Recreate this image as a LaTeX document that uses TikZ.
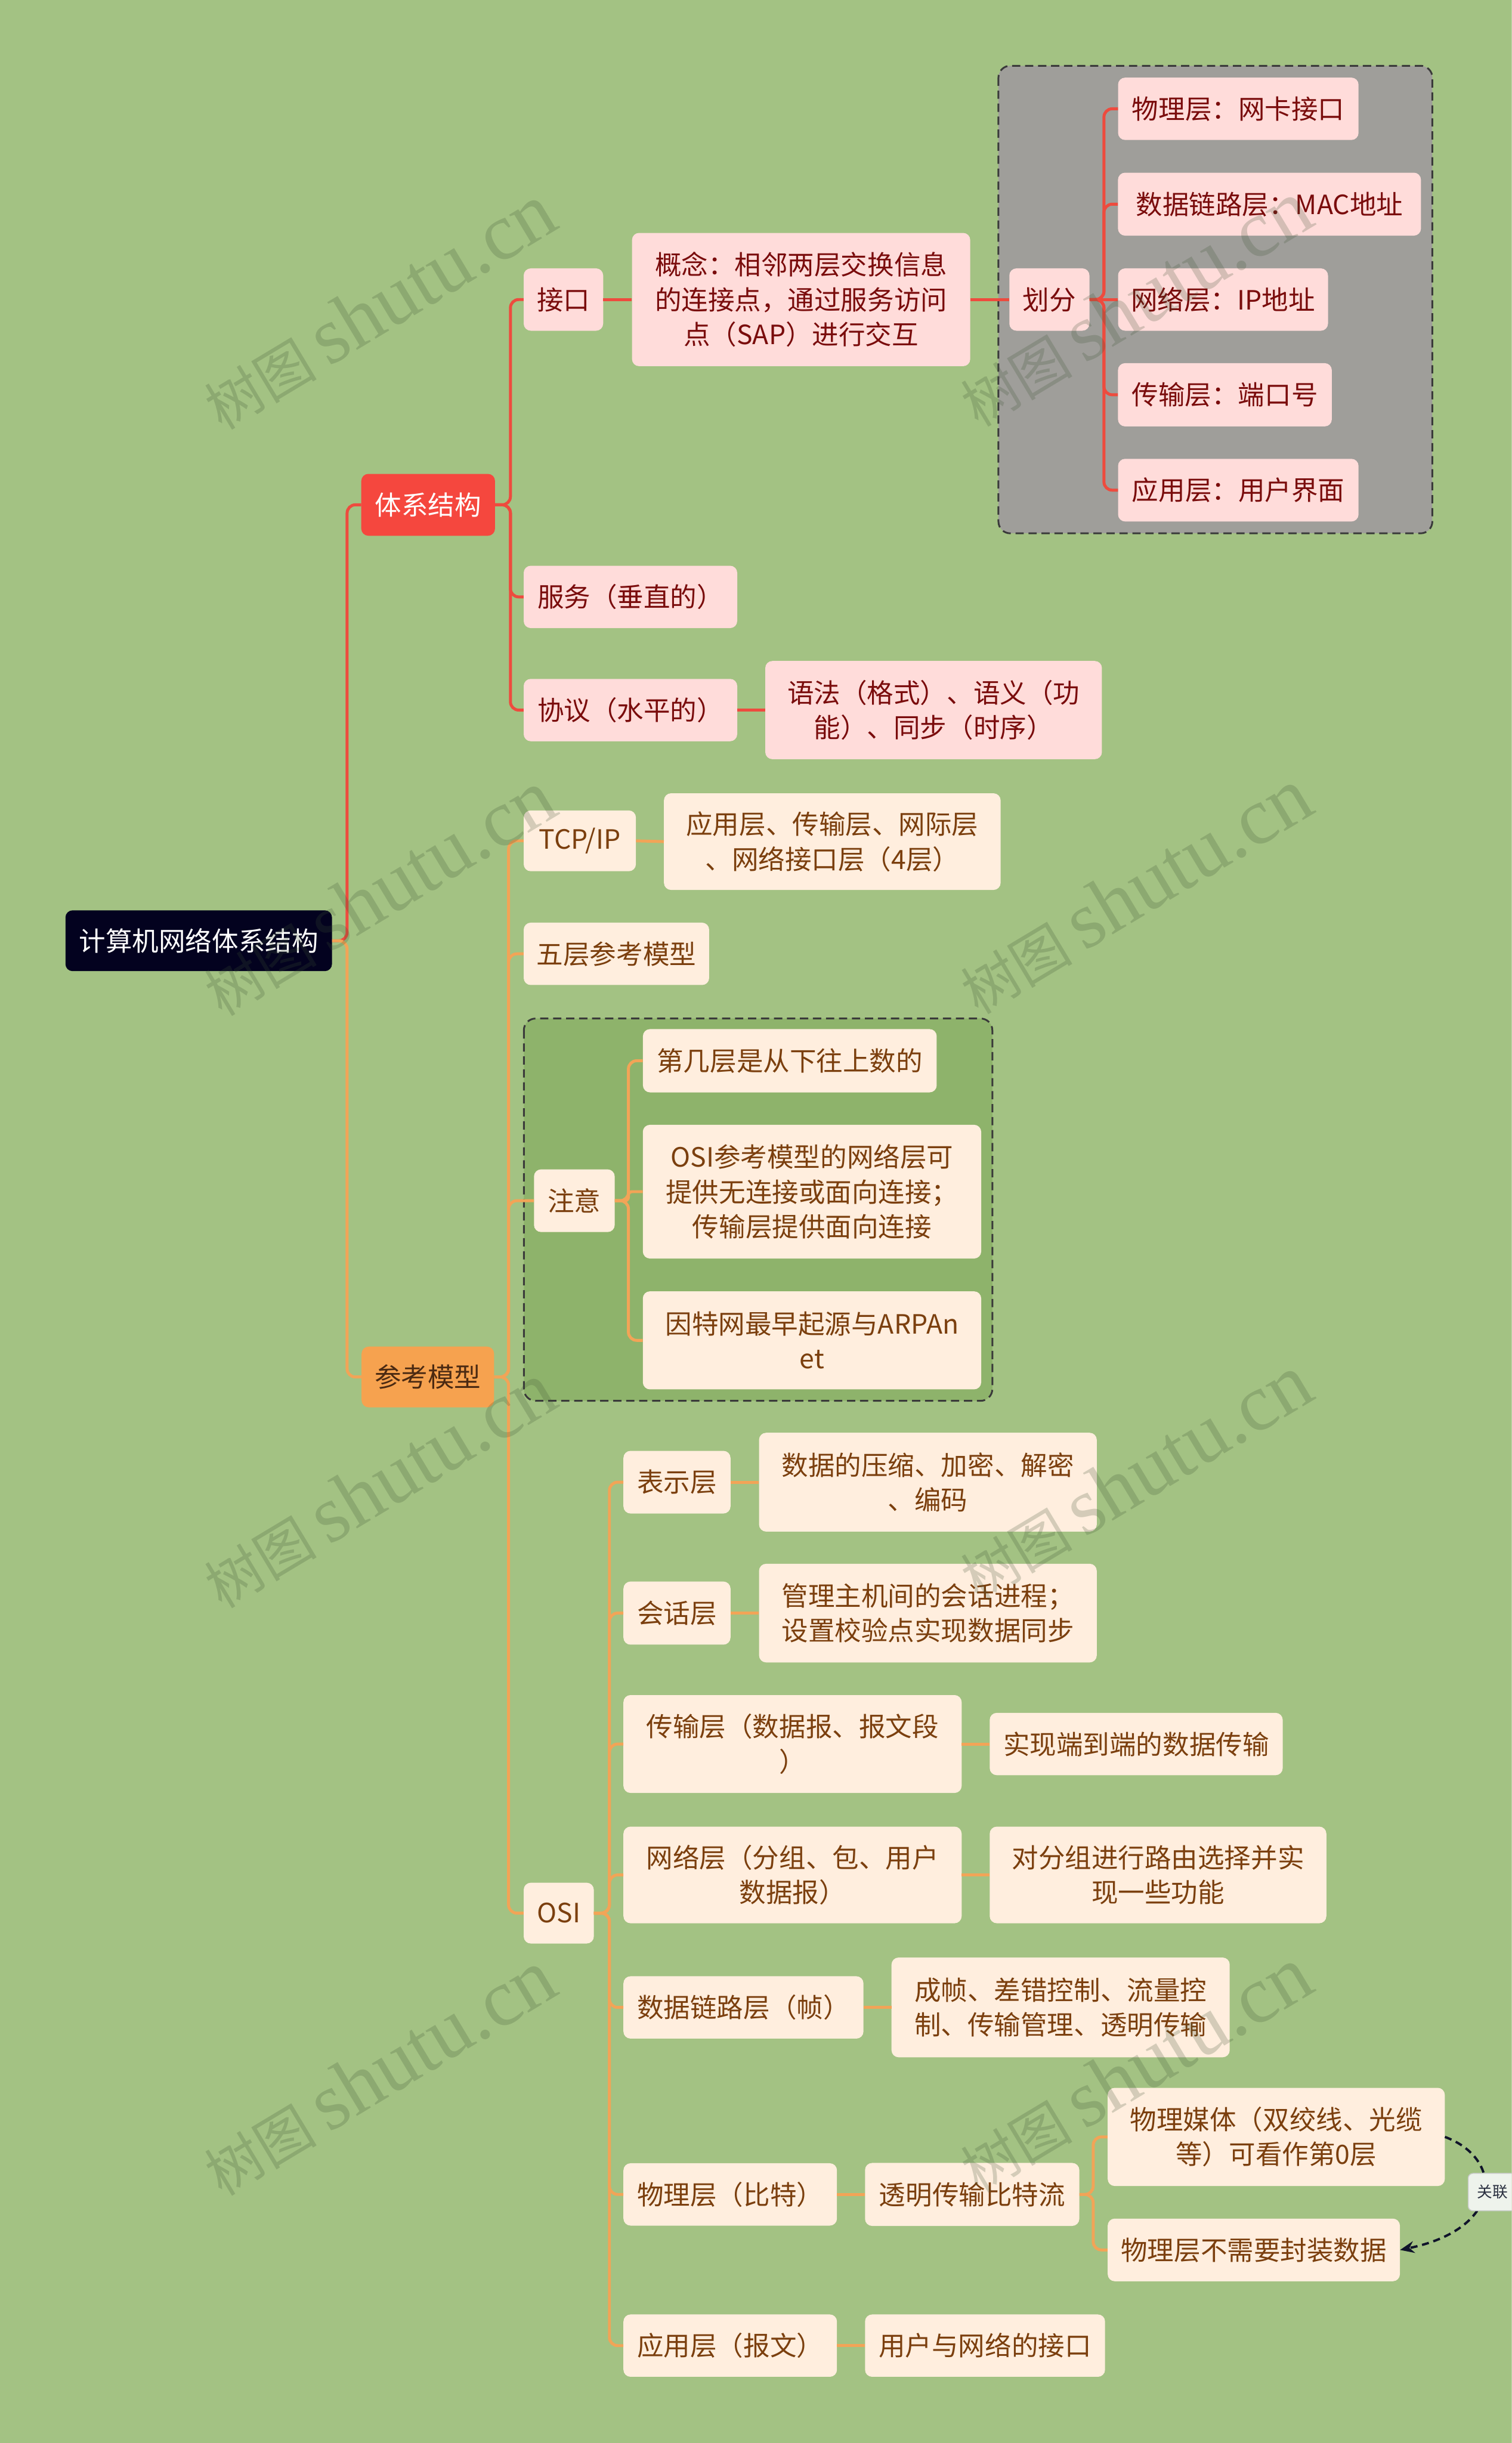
\documentclass[tikz,border=0pt]{standalone}
\usepackage{fontspec}
\setmainfont{Noto Sans CJK SC}
\newfontfamily\wmserif{Liberation Serif}
\usetikzlibrary{arrows.meta}
\definecolor{bgc}{HTML}{A3C283}
\definecolor{rootf}{HTML}{03021F}
\definecolor{redf}{HTML}{F5473E}
\definecolor{redl}{HTML}{EE4B3E}
\definecolor{pinkf}{HTML}{FFDCDA}
\definecolor{redt}{HTML}{7A0C0C}
\definecolor{orf}{HTML}{F6A24F}
\definecolor{orl}{HTML}{F2A457}
\definecolor{ort}{HTML}{4B2A12}
\definecolor{creamf}{HTML}{FFEEDE}
\definecolor{brownt}{HTML}{7B3F0E}
\definecolor{greyf}{HTML}{9F9E9A}
\definecolor{greenf}{HTML}{8EB36B}
\definecolor{grpl}{HTML}{3A3A3A}
\definecolor{wmc}{HTML}{3E5232}
\definecolor{relf}{HTML}{EEF3EC}
\definecolor{rell}{HTML}{C8CCC8}
\definecolor{relt}{HTML}{2A3040}
\definecolor{arrc}{HTML}{10142A}
\newcommand\fsz{\fontsize{45pt}{59pt}\selectfont}
\tikzset{
  nbase/.style={rounded corners=12pt, inner sep=0pt, align=center, font=\fsz},
  rootn/.style={nbase, fill=rootf, text=white},
  redn/.style={nbase, fill=redf, text=white},
  orn/.style={nbase, fill=orf, text=ort},
  pk/.style={nbase, fill=pinkf, text=redt},
  cr/.style={nbase, fill=creamf, text=brownt},
  sz/.style 2 args={minimum width=#1*2.63918pt, minimum height=#2*2.63918pt},
  rl/.style={draw=redl, line width=5pt, rounded corners=14pt},
  ol/.style={draw=orl, line width=5pt, rounded corners=14pt},
  grp/.style={draw=grpl, line width=3pt, dash pattern=on 14pt off 8pt, rounded corners=20pt},
  wm/.style={rotate=31, text=wmc, text opacity=0.22, inner sep=0pt},
  reln/.style={fill=relf, draw=rell, line width=1.5pt, rounded corners=8pt, text=relt, font=\fontsize{26pt}{30pt}\selectfont, inner sep=0pt},
  relarrow/.style={draw=arrc, line width=4pt, dash pattern=on 12pt off 8pt, -{Stealth[length=24pt,width=20pt]}}
}
\begin{document}
\begin{tikzpicture}[x=2.63918pt, y=-2.63918pt]
\useasboundingbox (0,0) rectangle (970,1567.5);
\clip (0,0) rectangle (970,1567.5);
\fill[bgc] (0,0) rectangle (970,1567.5);

% group boxes
\draw[grp, fill=greyf] (640.6,42.2) rectangle (919,342.2);
\draw[grp, fill=greenf] (336.1,653.5) rectangle (636.7,898.8);

% trunk coordinates
\coordinate (tR) at (222.7,0);
\coordinate (tA) at (327.5,0);
\coordinate (tH) at (708.3,0);
\coordinate (tB) at (326.3,0);
\coordinate (tZ) at (403.2,0);
\coordinate (tO) at (391,0);
\coordinate (tT) at (701.4,0);

% nodes
\node[rootn, sz={171}{39}] (root) at (127.5,603.6) {计算机网络体系结构};
\node[redn, sz={85.8}{39.7}] (tx) at (274.7,323.9) {体系结构};
\node[orn, sz={85}{39}] (ck) at (274.5,883.5) {参考模型};

\node[pk, sz={51}{40}] (jk) at (361.5,192.2) {接口};
\node[pk, sz={217}{85.5}] (gn) at (514,192.2) {概念：相邻两层交换信息\\的连接点，通过服务访问\\点（SAP）进行交互};
\node[pk, sz={137}{40}] (fw) at (404.5,383) {服务（垂直的）};
\node[pk, sz={137}{40}] (xy) at (404.5,455.6) {协议（水平的）};
\node[pk, sz={216}{63}] (yf) at (599,455.6) {语法（格式）、语义（功\\能）、同步（时序）};
\node[pk, sz={51.4}{40}] (hf) at (673.3,192.2) {划分};
\node[pk, sz={154.3}{40}] (h1) at (794.5,69.8) {物理层：网卡接口};
\node[pk, sz={194.4}{40.4}] (h2) at (814.5,131) {数据链路层：MAC地址};
\node[pk, sz={134.7}{40}] (h3) at (784.7,192.2) {网络层：IP地址};
\node[pk, sz={137.2}{40.6}] (h4) at (785.9,253.3) {传输层：端口号};
\node[pk, sz={154.3}{40.2}] (h5) at (794.5,314.5) {应用层：用户界面};

\node[cr, sz={72}{39}] (tcp) at (372,539.5) {TCP/IP};
\node[cr, sz={216}{62}] (tcpd) at (534,540) {应用层、传输层、网际层\\、网络接口层（4层）};
\node[cr, sz={119}{40}] (wc) at (395.5,612) {五层参考模型};
\node[cr, sz={51.8}{40.2}] (zy) at (368.5,770.4) {注意};
\node[cr, sz={188.5}{40.6}] (z1) at (506.75,680.6) {第几层是从下往上数的};
\node[cr, sz={217.1}{85.8}] (z2) at (521,764.6) {OSI参考模型的网络层可\\提供无连接或面向连接；\\传输层提供面向连接};
\node[cr, sz={217.1}{62.9}] (z3) at (521,860) {因特网最早起源与ARPAn\\et};
\node[cr, sz={45}{39}] (osi) at (358.5,1227.5) {OSI};
\node[cr, sz={68.7}{40.2}] (o1) at (434.35,951) {表示层};
\node[cr, sz={216.7}{63.4}] (o1d) at (595.35,951) {数据的压缩、加密、解密\\、编码};
\node[cr, sz={68.7}{40.5}] (o2) at (434.35,1035) {会话层};
\node[cr, sz={216.7}{63.3}] (o2d) at (595.35,1035) {管理主机间的会话进程；\\设置校验点实现数据同步};
\node[cr, sz={217}{62.8}] (o3) at (508.5,1119) {传输层（数据报、报文段\\）};
\node[cr, sz={188}{40}] (o3d) at (729,1119) {实现端到端的数据传输};
\node[cr, sz={217}{62}] (o4) at (508.5,1203) {网络层（分组、包、用户\\数据报）};
\node[cr, sz={216}{62}] (o4d) at (743,1203) {对分组进行路由选择并实\\现一些功能};
\node[cr, sz={154}{40}] (o5) at (477,1288) {数据链路层（帧）};
\node[cr, sz={217}{64}] (o5d) at (680.5,1288) {成帧、差错控制、流量控\\制、传输管理、透明传输};
\node[cr, sz={137}{40}] (o6) at (468.5,1408) {物理层（比特）};
\node[cr, sz={137.5}{40.4}] (o6d) at (623.75,1408) {透明传输比特流};
\node[cr, sz={216.3}{63}] (pm) at (818.85,1371.1) {物理媒体（双绞线、光缆\\等）可看作第0层};
\node[cr, sz={187.5}{40.2}] (pb) at (804.45,1443.6) {物理层不需要封装数据};
\node[cr, sz={137}{40}] (o7) at (468.5,1505) {应用层（报文）};
\node[cr, sz={154}{40}] (o7d) at (632,1505) {用户与网络的接口};

% red connectors
\draw[rl] (root.east) -- (root.east -| tR) |- (tx.west);
\draw[rl] (tx.east) -- (tx.east -| tA) |- (jk.west);
\draw[rl] (tx.east) -- (tx.east -| tA) |- (fw.west);
\draw[rl] (tx.east) -- (tx.east -| tA) |- (xy.west);
\draw[rl] (jk.east) -- (gn.west);
\draw[rl] (gn.east) -- (hf.west);
\draw[rl] (xy.east) -- (yf.west);
\draw[rl] (hf.east) -- (hf.east -| tH) |- (h1.west);
\draw[rl] (hf.east) -- (hf.east -| tH) |- (h2.west);
\draw[rl] (hf.east) -- (h3.west);
\draw[rl] (hf.east) -- (hf.east -| tH) |- (h4.west);
\draw[rl] (hf.east) -- (hf.east -| tH) |- (h5.west);

% orange connectors
\draw[ol] (root.east) -- (root.east -| tR) |- (ck.west);
\draw[ol] (ck.east) -- (ck.east -| tB) |- (tcp.west);
\draw[ol] (ck.east) -- (ck.east -| tB) |- (wc.west);
\draw[ol] (ck.east) -- (ck.east -| tB) |- (zy.west);
\draw[ol] (ck.east) -- (ck.east -| tB) |- (osi.west);
\draw[ol] (tcp.east) -- (tcpd.west);
\draw[ol] (zy.east) -- (zy.east -| tZ) |- (z1.west);
\draw[ol, rounded corners=6pt] (zy.east) -- (zy.east -| tZ) |- (z2.west);
\draw[ol] (zy.east) -- (zy.east -| tZ) |- (z3.west);
\foreach \c in {o1,o2,o3,o4,o5,o6,o7}{
  \draw[ol] (osi.east) -- (osi.east -| tO) |- (\c.west);
}
\draw[ol] (o1.east) -- (o1d.west);
\draw[ol] (o2.east) -- (o2d.west);
\draw[ol] (o3.east) -- (o3d.west);
\draw[ol] (o4.east) -- (o4d.west);
\draw[ol] (o5.east) -- (o5d.west);
\draw[ol] (o6.east) -- (o6d.west);
\draw[ol] (o7.east) -- (o7d.west);
\draw[ol] (o6d.east) -- (o6d.east -| tT) |- (pm.west);
\draw[ol] (o6d.east) -- (o6d.east -| tT) |- (pb.west);

% relation arrow
\draw[relarrow] (pm.east) .. controls (965,1385) and (965,1430) .. (pb.east);
\node[reln, minimum width=31*2.63918pt, minimum height=24*2.63918pt] (rel) at (957.5,1406.5) {关联};

% watermark
\foreach \a/\b in {243/197, 728/195, 243/573, 728/572, 243/953, 728/948, 243/1330, 728/1328}{
  \node[wm] (w\a\b) at (\a,\b) {\fontsize{95pt}{95pt}\selectfont 树图\hspace{20pt}\wmserif\fontsize{137pt}{137pt}\selectfont shutu.cn};
}
\end{tikzpicture}
\end{document}
